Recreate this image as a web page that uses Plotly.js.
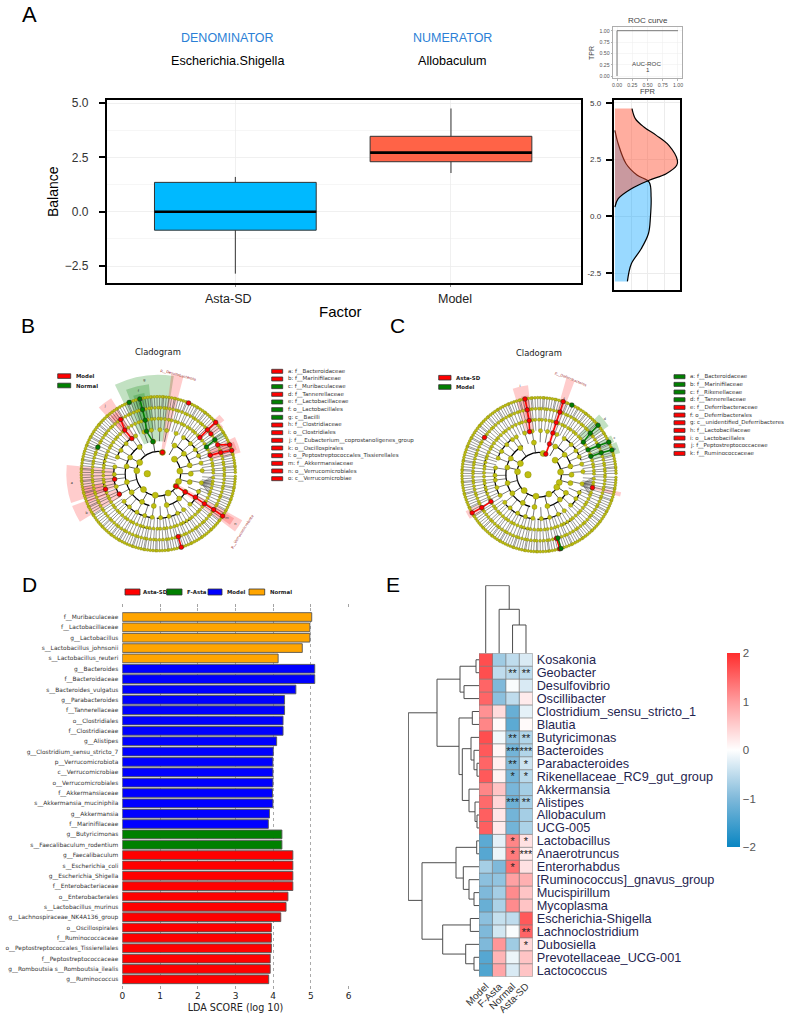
<!DOCTYPE html>
<html><head><meta charset="utf-8">
<script src="https://cdn.plot.ly/plotly-3.0.1.min.js"></script>
<style>html,body{margin:0;padding:0;background:#fff}#g{width:790px;height:1023px}</style>
</head><body><div id="g"></div>
<script>
// ---------- Panel A data ----------
const boxCats = ['Asta-SD','Model'];
const boxQ1 = [-0.85, 2.3];
const boxMed = [0, 2.72];
const boxQ3 = [1.35, 3.47];
const boxLow = [-2.85, 1.78];
const boxUp = [1.6, 4.75];
const boxColors = ['#00b9ff','#ff6347'];
const densModelY = [4.75,4.31,3.94,3.57,3.13,2.47,2.25,1.88,1.59,1.22,0.78,0.41];
const densModelX = [0.26,0.31,0.44,0.63,0.82,0.95,0.94,0.78,0.52,0.25,0.05,0];
const densAstaY = [3.79,3.2,2.32,1.81,1.51,0.85,-0.03,-0.76,-1.43,-2.09,-2.87];
const densAstaX = [0,0.05,0.17,0.34,0.52,0.55,0.54,0.51,0.40,0.25,0.19];
const rocX = [0,0,1];
const rocY = [0,1,1];

// ---------- Cladogram data ----------
const levelR = [0,21.7,32.5,44,55,66,77];
const ring1 = [42,7,-21,149,172,227,262,297,79,-35];
const ring2 = [60,38,15,0,-15,-34,99,125,150,167,195,215,240,262,285,310];
const ring3 = [4,14,24,33,43,55,66,79,88,99,109,121,127,137,148,158,171,181,187,197,208,219,229,241,252,262,273,284,296,305,316,327,336,348];
const ring4 = [1,4,8,11,15,19,22,26,29,33,37,41,44,48,51,55,58,62,65,69,72,76,79,83,87,90,94,97,101,104,108,111,115,119,123,127,130,134,138,141,145,149,152,156,160,163,167,171,174,178,182,186,189,193,196,200,204,207,211,215,218,222,225,229,233,236,240,243,247,251,254,258,261,265,269,272,276,279,283,287,290,294,297,301,305,308,312,316,319,323,327,330,334,338,341,345,349,352,356];
const ring5 = [0,3,5,8,10,13,16,19,21,24,26,29,32,35,37,40,43,45,48,50,53,56,58,61,64,66,69,72,74,77,80,83,85,88,90,93,96,98,101,104,107,109,112,115,117,120,123,125,128,131,134,136,139,142,144,147,150,152,155,158,161,163,166,169,171,174,177,179,182,185,187,190,193,196,198,201,204,206,209,212,214,217,220,223,225,228,231,233,236,239,241,244,247,250,252,255,258,260,263,266,268,271,274,277,279,282,285,287,290,293,295,298,301,304,306,309,312,314,317,320,322,325,328,331,333,336,339,341,344,347,349,352,355,358];
const ring6 = [1,3,5,6,8,10,12,14,15,17,19,21,23,24,26,28,30,32,33,35,37,39,41,42,44,46,48,50,52,53,55,57,59,60,62,64,66,68,69,71,73,75,77,78,80,82,84,86,87,89,91,93,95,96,98,100,102,104,105,107,109,111,113,114,116,118,120,122,123,125,127,129,131,132,134,136,138,140,141,143,145,147,149,151,152,154,156,158,159,161,163,165,167,169,170,172,174,176,177,179,181,183,185,186,188,190,192,194,195,197,199,201,203,205,206,208,210,212,213,215,217,219,221,223,224,226,228,230,232,233,235,237,239,240,242,244,246,248,250,251,253,255,257,259,260,262,264,266,268,269,271,273,275,277,278,280,282,284,286,287,289,291,293,295,296,298,300,302,304,305,307,309,311,313,314,316,318,320,322,323,325,327,329,331,332,334,336,338,340,341,343,345,347,349,350,352,354,356,358];
const arcBase = [21.7,21.7,32.5,32.5,32.5,44,44,44,44,44,44,55,55,55,55];
const arcTheta = [202,10,187,305,35,142,189,242,284,327,37,165,196,256,300];
const arcWidth = [246,50,135,40,50,31,38,40,32,25,35,12,12,12,10];
const rootR = [11];
const rootTheta = [180];
const fanFrom = -12;
const fanTo = [-2,-4,-5,-7,-8,-9,-11,-12,-13,-15,-16,-18,-19,-21,-22];

const wedgeB = {
  base:[32.5,44,55,21.7,44,55,44,44,55,21.7,55,66,55,55,66,55],
  top:[99,90,82,100,89,74,92,92,78,96,85,88,85,82,80,78],
  theta:[98.5,103.5,103.8,79,127,127,186.5,206,196,-33,41.5,-33,20,20,37,31],
  width:[35,15,8,7,10,6,24,11,12,8,5,5,11,6,3,4],
  color:['g','g','g','r','r','r','r','r','r','r','r','r','r','r','r','g']
};
const chainsRedB = [[[1,79]],[[3,127],[4,127.6],[5,124.7]],[[6,66.8]],[[4,41],[5,41.7],[6,41.8]],[[5,37.2]],[[4,19.5],[5,18.8],[6,17.5]],[[5,25.9],[6,22]],[[1,-35.3],[2,-34.3],[3,-32.4],[4,-33.1],[5,-33],[6,-33.3]],[[5,-72.4],[6,-72.6]],[[3,187.3]],[[4,196.4]],[[3,207.7]]];
const chainsGreenB = [[[2,99.5],[3,105.5],[4,103.8],[5,103.8],[6,103.9]],[[6,112.2]],[[5,156.3]],[[4,29],[5,31]]];
const wedgeLettersB = {r:[95,85,76,87,82,86,92,82],theta:[98.5,103.5,103.5,186,209,128,-33,-33],text:['g','f','e','a','b','j','n','m']};
const wedgeC = {
  base:[21.7,44,55,66,55,55,55,55],
  top:[100,90,80,82,84,85,82,84],
  theta:[71.7,102,100.5,209.5,-13.6,40,26,19],
  width:[5,10,5,6,3,10,5,8],
  color:['r','r','r','r','r','g','g','g']
};
const chainsRedC = [[[1,71.6],[2,71.2],[3,71.7],[4,71.7],[5,71.5],[6,71.7]],[[3,102.4],[4,100.3],[5,100.3],[6,100.5]],[[5,145.7]],[[4,209.2],[5,209.9],[6,209.7]],[[4,-13.6]],[[5,-74.7],[6,-74.4]]];
const chainsGreenC = [[[6,64.7]],[[4,36.3],[5,39],[6,40]],[[4,26.9],[5,26],[6,25]],[[4,19.5],[5,19.4],[6,18.7]],[[5,-73.4],[6,-73.4]]];
const wedgeLettersC = {r:[91,80,86,84,80],theta:[102,71.7,40,26,19],text:['i','f','d','c','b']};
const cladLabelsB = ['a: f__Bacteroidaceae','b: f__Marinifilaceae','c: f__Muribaculaceae','d: f__Tannerellaceae','e: f__Lactobacillaceae','f: o__Lactobacillales','g: c__Bacilli','h: f__Clostridiaceae','i: o__Clostridiales','j: f___Eubacterium__coprostanoligenes_group','k: o__Oscillospirales','l: o__Peptostreptococcales_Tissierellales','m: f__Akkermansiaceae','n: o__Verrucomicrobiales','o: c__Verrucomicrobiae'];
const cladColorsB = ['r','r','g','r','g','g','g','r','r','r','r','r','r','r','r'];
const cladLabelsC = ['a: f__Bacteroidaceae','b: f__Marinifilaceae','c: f__Rikenellaceae','d: f__Tannerellaceae','e: f__Deferribacteraceae','f: o__Deferribacterales','g: c__unidentified_Deferribacteres','h: f__Lactobacillaceae','i: o__Lactobacillales','j: f__Peptostreptococcaceae','k: f__Ruminococcaceae'];
const cladColorsC = ['g','g','g','g','r','r','r','r','r','r','r'];

// ---------- Panel D data ----------
const ldaLabels = ['f__Muribaculaceae','f__Lactobacillaceae','g__Lactobacillus','s__Lactobacillus_johnsonii','s__Lactobacillus_reuteri','g__Bacteroides','f__Bacteroidaceae','s__Bacteroides_vulgatus','g__Parabacteroides','f__Tannerellaceae','o__Clostridiales','f__Clostridiaceae','g__Alistipes','g__Clostridium_sensu_stricto_7','p__Verrucomicrobiota','c__Verrucomicrobiae','o__Verrucomicrobiales','f__Akkermansiaceae','s__Akkermansia_muciniphila','g__Akkermansia','f__Marinifilaceae','g__Butyricimonas','s__Faecalibaculum_rodentium','g__Faecalibaculum','s__Escherichia_coli','g__Escherichia_Shigella','f__Enterobacteriaceae','o__Enterobacterales','s__Lactobacillus_murinus','g__Lachnospiraceae_NK4A136_group','o__Oscillospirales','f__Ruminococcaceae','o__Peptostreptococcales_Tissierellales','f__Peptostreptococcaceae','g__Romboutsia s__Romboutsia_ilealis','g__Ruminococcus'];
const ldaScores = [5.02,4.97,4.97,4.77,4.13,5.10,5.10,4.60,4.30,4.30,4.26,4.26,4.09,4.00,3.99,3.99,3.99,3.98,3.99,3.90,3.87,4.23,4.23,4.52,4.52,4.52,4.52,4.39,4.34,4.20,3.95,3.95,3.95,3.92,3.92,3.88];
const ldaClass = ['N','N','N','N','N','M','M','M','M','M','M','M','M','M','M','M','M','M','M','M','M','F','F','A','A','A','A','A','A','A','A','A','A','A','A','A'];
const ldaColors = {N:'#ffa500',M:'#0000ff',F:'#008000',A:'#ff0000'};
const ldaTicks = [0,1,2,3,4,5,6];
const ldaLegend = ['Asta-SD','F-Asta','Model','Normal'];
const ldaLegendColors = ['#ff0000','#008000','#0000ff','#ffa500'];

// ---------- Panel E data ----------
const heatCols = ['Model','F-Asta','Normal','Asta-SD'];
const heatRows = ['Kosakonia','Geobacter','Desulfovibrio','Oscillibacter','Clostridium_sensu_stricto_1','Blautia','Butyricimonas','Bacteroides','Parabacteroides','Rikenellaceae_RC9_gut_group','Akkermansia','Alistipes','Allobaculum','UCG-005','Lactobacillus','Anaerotruncus','Enterorhabdus','[Ruminococcus]_gnavus_group','Mucispirillum','Mycoplasma','Escherichia-Shigella','Lachnoclostridium','Dubosiella','Prevotellaceae_UCG-001','Lactococcus'];
const heatZ = [
[1.7,-0.75,-0.5,-0.3],[1.7,-0.5,-0.55,-0.5],[1.5,-1.0,-0.05,-0.3],[1.5,-0.9,-0.5,0.2],
[1.1,0.35,-1.2,-0.2],[1.2,0.05,-1.3,0.05],[1.7,-0.1,-0.9,-0.6],[1.6,0.08,-1.1,-0.6],
[1.5,0.15,-1.0,-0.4],[1.6,0.12,-1.1,-0.55],[1.2,0.6,-1.05,-0.7],[1.45,0.4,-1.15,-0.7],
[1.55,0.25,-1.1,-0.7],[1.55,0.2,-1.1,-0.65],[-1.3,-0.2,1.2,0.3],[-1.35,-0.15,1.3,0.2],
[-0.7,-1.0,1.4,0.3],[-0.9,-0.85,0.95,0.8],[-1.0,-0.7,1.15,0.6],[-1.2,-0.65,1.15,0.6],
[-0.9,-0.45,-0.5,1.6],[-1.0,-0.35,-0.05,1.5],[-1.0,1.05,-0.75,0.4],[-1.35,0.75,-0.15,0.6],[-1.4,0.9,-0.3,0.6]];
const starRow = [1,1,6,6,7,7,8,8,9,9,11,11,14,14,15,15,16,21,22];
const starCol = [2,3,2,3,2,3,2,3,2,3,2,3,2,3,2,3,2,3,3];
const starText = ['**','**','**','**','***','***','**','*','*','*','***','**','*','*','*','***','*','**','*'];
// merges: [posA, heightA, posB, heightB, mergeHeight]
const colMerges = [[2,0,3,0,28.3],[1,0,2.5,28.3,44],[0,0,1.75,44,67.7]];
const rowMerges = [
[0,0,1,0,3],[2,0,3,0,15],[0.5,3,2.5,15,19],[4,0,5,0,6.7],[8,0,9,0,2],[7,0,8.5,2,5],[6,0,7.75,5,8],
[12,0,13,0,2],[11,0,12.5,2,4],[10,0,11.75,4,10],[6.875,8,10.875,10,16.7],[4.5,6.7,8.875,16.7,20],[1.5,19,6.69,20,42],
[14,0,15,0,2.3],[18,0,19,0,5],[17,0,18.5,5,10],[16,0,17.75,10,15.7],[14.5,2.3,16.875,15.7,23],
[20,0,21,0,8.7],[23,0,24,0,5],[22,0,23.5,5,13.3],[20.5,8.7,22.75,13.3,36.3],[15.69,23,21.6,36.3,57],[4.1,42,18.6,57,70.7]];

// ---------- helpers ----------
const W=790,H=1023;
const dx=(a,b)=>[a/W,b/W];
const dy=(top,bot)=>[1-bot/H,1-top/H];
const anns=[],shapes=[];
function txt(x,y,text,size,o){o=o||{};anns.push({xref:'paper',yref:'paper',x:x/W,y:1-y/H,text:text,showarrow:false,
  xanchor:o.xa||'center',yanchor:'middle',textangle:o.rot||0,
  font:{family:o.fam||'Liberation Sans',size:size,color:o.color||'#000'}});}
function rect(x0,x1,y0,y1,fill){shapes.push({type:'rect',xref:'paper',yref:'paper',x0:x0/W,x1:x1/W,y0:1-y0/H,y1:1-y1/H,fillcolor:fill,line:{color:'#333',width:0.8}});}
const RED='#ff0000',GREEN='#008000';
const traces=[];

// A: box
boxCats.forEach((c,i)=>{
  traces.push({type:'box',xaxis:'x',yaxis:'y',x:[i],q1:[boxQ1[i]],median:[boxMed[i]],q3:[boxQ3[i]],lowerfence:[boxLow[i]],upperfence:[boxUp[i]],
    width:0.75,whiskerwidth:0,boxpoints:false,fillcolor:boxColors[i],line:{color:'#333',width:1},showlegend:false,hoverinfo:'skip'});
  traces.push({type:'scatter',xaxis:'x',yaxis:'y',mode:'lines',x:[i-0.375,i+0.375],y:[boxMed[i],boxMed[i]],line:{color:'#000',width:2.6},showlegend:false,hoverinfo:'skip'});
});
// A: density
traces.push({type:'scatter',xaxis:'x2',yaxis:'y2',mode:'lines',x:densAstaX,y:densAstaY,fill:'tozerox',fillcolor:'rgba(0,160,255,0.40)',line:{color:'#000',width:1.2,shape:'spline'},showlegend:false,hoverinfo:'skip'});
traces.push({type:'scatter',xaxis:'x2',yaxis:'y2',mode:'lines',x:densModelX,y:densModelY,fill:'tozerox',fillcolor:'rgba(255,80,50,0.47)',line:{color:'#000',width:1.2,shape:'spline'},showlegend:false,hoverinfo:'skip'});
// A: ROC
traces.push({type:'scatter',xaxis:'x3',yaxis:'y3',mode:'lines',x:rocX,y:rocY,line:{color:'#777',width:1},showlegend:false,hoverinfo:'skip'});

// Cladograms
function spokes(ring,l){const r=[],t=[];ring.forEach(a=>{r.push(levelR[l-1],levelR[l],null);t.push(a,a,null);});return {r,t};}
function chainLines(ch){const r=[],t=[];ch.forEach(c=>{c.forEach(p=>{r.push(levelR[p[0]]);t.push(p[1]);});r.push(null);t.push(null);});return {r,t};}
function cladogram(sp,wedge,red,green,letters){
  const wc=wedge.color.map(c=>c==='r'?'rgba(255,0,0,0.2)':'rgba(0,128,0,0.24)');
  traces.push({type:'barpolar',subplot:sp,base:wedge.base,r:wedge.top.map((v,i)=>v-wedge.base[i]),theta:wedge.theta,width:wedge.width,marker:{color:wc,line:{width:0}},showlegend:false,hoverinfo:'skip'});
  traces.push({type:'barpolar',subplot:sp,base:arcBase,r:arcBase.map(()=>1.2),theta:arcTheta,width:arcWidth,marker:{color:'#000',line:{width:0}},showlegend:false,hoverinfo:'skip'});
  const fr=[],ft=[];fanTo.forEach(a=>{fr.push(levelR[3],levelR[4],null);ft.push(fanFrom,a,null);});
  traces.push({type:'scatterpolar',subplot:sp,mode:'lines',r:fr,theta:ft,line:{color:'#777',width:0.6},showlegend:false,hoverinfo:'skip'});
  [[ring6,6,0.5,'#333'],[ring5,5,0.5,'#333'],[ring4,4,0.5,'#333'],[ring3,3,0.6,'#222'],[ring2,2,0.8,'#222']].forEach(s=>{
    const q=spokes(s[0],s[1]);
    traces.push({type:'scatterpolar',subplot:sp,mode:'lines',r:q.r,theta:q.t,line:{color:s[3],width:s[2]},showlegend:false,hoverinfo:'skip'});
  });
  [[ring6,6,2.8],[ring5,5,3],[ring4,4,3.2],[ring3,3,4.2],[ring2,2,5],[ring1,1,6]].forEach(s=>{
    traces.push({type:'scatterpolar',subplot:sp,mode:'markers',r:s[0].map(()=>levelR[s[1]]),theta:s[0],marker:{size:s[2],color:'#bfbf10',line:{color:'#7f7f00',width:0.4}},showlegend:false,hoverinfo:'skip'});
  });
  traces.push({type:'scatterpolar',subplot:sp,mode:'markers',r:rootR,theta:rootTheta,marker:{size:6.5,color:'#bfbf10',line:{color:'#7f7f00',width:0.4}},showlegend:false,hoverinfo:'skip'});
  [[red,RED],[green,GREEN]].forEach(g=>{
    const q=chainLines(g[0]);
    traces.push({type:'scatterpolar',subplot:sp,mode:'lines+markers',r:q.r,theta:q.t,line:{color:g[1],width:1.5},marker:{size:4.6,color:g[1],line:{color:'#222',width:0.5}},showlegend:false,hoverinfo:'skip'});
  });
  traces.push({type:'scatterpolar',subplot:sp,mode:'text',r:letters.r,theta:letters.theta,text:letters.text,textfont:{size:3.5,color:'#333',family:'DejaVu Sans'},showlegend:false,hoverinfo:'skip'});
}
cladogram('polar',wedgeB,chainsRedB,chainsGreenB,wedgeLettersB);
cladogram('polar2',wedgeC,chainsRedC,chainsGreenC,wedgeLettersC);

// D
traces.push({type:'bar',orientation:'h',xaxis:'x4',yaxis:'y4',x:ldaScores,y:ldaLabels.map((_,i)=>i),width:0.84,
  marker:{color:ldaClass.map(c=>ldaColors[c]),line:{color:'#555',width:0.9}},showlegend:false,hoverinfo:'skip'});

// E
traces.push({type:'heatmap',xaxis:'x5',yaxis:'y5',x:heatCols.map((_,i)=>i),y:heatRows.map((_,i)=>i),z:heatZ,zmin:-2,zmax:2,
  colorscale:[[0,'#0a86c2'],[0.25,'#7fb9da'],[0.5,'#ffffff'],[0.75,'#ff9c9e'],[1,'#ff2d2d']],hoverinfo:'skip',
  colorbar:{x:726.7/W,xanchor:'left',xpad:0,ypad:0,y:1-653/H,yanchor:'top',lenmode:'pixels',len:194,thicknessmode:'pixels',thickness:12.6,
    tickvals:[-2,-1,0,1,2],ticktext:['\u22122','\u22121','0','1','2'],ticks:'',outlinewidth:0,tickfont:{family:'Liberation Sans',size:11.5,color:'#555'}}});
const gx=[],gy=[];
heatCols.concat(['']).forEach((_,i)=>{gx.push(i-0.5,i-0.5,null);gy.push(-0.5,heatRows.length-0.5,null);});
heatRows.concat(['']).forEach((_,i)=>{gx.push(-0.5,heatCols.length-0.5,null);gy.push(i-0.5,i-0.5,null);});
traces.push({type:'scatter',xaxis:'x5',yaxis:'y5',mode:'lines',x:gx,y:gy,line:{color:'#808080',width:0.8},showlegend:false,hoverinfo:'skip'});
traces.push({type:'scatter',xaxis:'x5',yaxis:'y5',mode:'text',x:starCol,y:starRow.map(r=>r+0.12),text:starText,textfont:{family:'Liberation Sans',size:11,color:'#222'},textposition:'middle center',showlegend:false,hoverinfo:'skip'});
function dendro(merges,xa,ya,horizontal){const a=[],b=[];merges.forEach(m=>{
    a.push(m[0],m[0],m[2],m[2],null);b.push(m[1],m[4],m[4],m[3],null);});
  traces.push({type:'scatter',xaxis:xa,yaxis:ya,mode:'lines',x:horizontal?b:a,y:horizontal?a:b,line:{color:'#4d4d4d',width:1},showlegend:false,hoverinfo:'skip'});}
dendro(colMerges,'x6','y6',false);
dendro(rowMerges,'x7','y7',true);

// ---------- text ----------
txt(29,15,'A',22); txt(28,326,'B',21); txt(397,326,'C',21); txt(29,584,'D',21); txt(393,584,'E',21);
txt(227.8,38,'DENOMINATOR',12.5,{color:'#2b7fd6'}); txt(452,38,'NUMERATOR',12.5,{color:'#2b7fd6'});
txt(227.8,61,'Escherichia.Shigella',12.6); txt(452,61,'Allobaculum',12.6);
txt(53,192,'Balance',14,{rot:-90}); txt(340,312,'Factor',15);
txt(228,299,boxCats[0],12.5,{color:'#222'}); txt(455,299,boxCats[1],12.5,{color:'#222'});
txt(647.5,21,'ROC curve',8,{color:'#444'}); txt(647.5,91,'FPR',7.5,{color:'#444'}); txt(592,53,'TPR',7,{rot:-90,color:'#444'});
txt(646.5,64,'AUC-ROC',6.2,{color:'#444'}); txt(648,70,'1',6.2,{color:'#444'});

const dv='DejaVu Sans';
txt(158,351.7,'Cladogram',8.4,{fam:dv,color:'#222'}); txt(539,352.7,'Cladogram',8.4,{fam:dv,color:'#222'});
rect(57.7,70.7,373.8,378.4,RED); rect(57.7,70.7,383.2,387.8,GREEN);
txt(74,376,'<b>Model</b>',5.4,{fam:dv,xa:'left',color:'#222'}); txt(74,385.6,'<b>Normal</b>',5.4,{fam:dv,xa:'left',color:'#222'});
rect(438.7,451,375.4,380,RED); rect(438.7,451,384.7,389.3,GREEN);
txt(453.7,377.7,'<b>Asta-SD</b>',5.4,{fam:dv,xa:'left',color:'#222'}); txt(453.7,387,'<b>Model</b>',5.4,{fam:dv,xa:'left',color:'#222'});
cladLabelsB.forEach((s,i)=>{const y=371.3+7.67*i;rect(271.7,282.7,y-2,y+2,cladColorsB[i]==='r'?RED:GREEN);txt(286,y,s,5.5,{fam:dv,xa:'left',color:'#333'});});
cladLabelsC.forEach((s,i)=>{const y=376.7+7.67*i;rect(674,685,y-2,y+2,cladColorsC[i]==='r'?RED:GREEN);txt(688.3,y,s,5.5,{fam:dv,xa:'left',color:'#333'});});
txt(178,374.5,'p__Desulfobacterota',3.6,{fam:dv,rot:15,color:'#a02828'});
txt(242,532,'p__Verrucomicrobiota',3.6,{fam:dv,rot:-57,color:'#a02828'});
txt(570.5,378.5,'p__Deferribacteres',3.6,{fam:dv,rot:22,color:'#a02828'});

const ldaLegX=[[125,140,141],[166.7,182,185],[208,222,224.7],[249,264.7,267.7]];
ldaLegend.forEach((s,i)=>{rect(ldaLegX[i][0],ldaLegX[i][1],589,595,ldaLegendColors[i]);txt(ldaLegX[i][2],592,'<b>'+s+'</b>',5.4,{fam:dv,xa:'left',color:'#222'});});

// ---------- layout ----------
const polarCommon={bgcolor:'rgba(0,0,0,0)',barmode:'overlay',radialaxis:{visible:false,range:[0,105]},angularaxis:{visible:false,rotation:0,direction:'counterclockwise',thetaunit:'degrees'}};
const fine='#ececec';
const layout={
  width:W,height:H,autosize:false,margin:{l:0,r:0,t:0,b:0},paper_bgcolor:'#fff',plot_bgcolor:'rgba(0,0,0,0)',showlegend:false,
  annotations:anns,shapes:shapes,
  polar:Object.assign({domain:{x:dx(158.3-105,158.3+105),y:dy(473.7-105,473.7+105)}},polarCommon),
  polar2:Object.assign({domain:{x:dx(539-105,539+105),y:dy(474.7-105,474.7+105)}},polarCommon),
  xaxis:{domain:dx(106.6,580.8),anchor:'y',range:[-0.597,1.602],tickvals:[0,1],showticklabels:false,showline:true,mirror:true,linecolor:'#000',linewidth:1.8,
    gridcolor:fine,gridwidth:0.8,zeroline:false,ticks:'outside',ticklen:2,tickwidth:1,tickcolor:'#888'},
  yaxis:{domain:dy(100,283),anchor:'x',range:[-3.28,5.14],tickmode:'array',tickvals:[-2.5,0,2.5,5],ticktext:['\u22122.5','0.0','2.5','5.0'],showline:true,mirror:true,linecolor:'#000',linewidth:1.8,
    gridcolor:fine,gridwidth:0.8,zeroline:false,ticks:'outside',ticklen:6,tickwidth:2,tickcolor:'#000',ticklabelstandoff:8,tickfont:{family:'Liberation Sans',size:12,color:'#333'},
    minor:{tickmode:'array',tickvals:[-1.25,1.25,3.75],showgrid:true,gridcolor:'#f4f4f4',gridwidth:0.8,ticks:''}},
  xaxis2:{domain:dx(613.6,680.3),anchor:'y2',range:[-0.02,0.994],showline:true,mirror:true,linecolor:'#000',linewidth:1.8,tickvals:[0.25,0.5,0.75],showticklabels:false,ticks:'',gridcolor:fine,zeroline:false},
  yaxis2:{domain:dy(100,290),anchor:'x2',range:[-3.25,5.13],tickmode:'array',tickvals:[-2.5,0,2.5,5],ticktext:['-2.5','0.0','2.5','5.0'],showline:true,mirror:true,linecolor:'#000',linewidth:1.8,
    ticks:'outside',ticklen:6,tickwidth:2,tickcolor:'#000',gridcolor:fine,zeroline:false,tickfont:{family:'Liberation Sans',size:8,color:'#333'},ticklabelstandoff:3},
  xaxis3:{domain:dx(613,682),anchor:'y3',range:[-0.066,1.066],tickmode:'array',tickvals:[0,0.25,0.5,0.75,1],ticktext:['0.00','0.25','0.50','0.75','1.00'],showline:true,mirror:true,linecolor:'#999',linewidth:0.8,
    ticks:'outside',ticklen:1.5,tickwidth:0.5,tickcolor:'#666',gridcolor:'#eeeeee',gridwidth:0.5,zeroline:false,tickfont:{family:'Liberation Sans',size:5.2,color:'#555'}},
  yaxis3:{domain:dy(27.3,78.3),anchor:'x3',range:[-0.05,1.075],tickmode:'array',tickvals:[0,0.25,0.5,0.75,1],ticktext:['0.00','0.25','0.50','0.75','1.00'],showline:true,mirror:true,linecolor:'#999',linewidth:0.8,
    ticks:'outside',ticklen:1.5,tickwidth:0.5,tickcolor:'#666',gridcolor:'#eeeeee',gridwidth:0.5,zeroline:false,tickfont:{family:'Liberation Sans',size:5.2,color:'#555'}},
  xaxis4:{domain:dx(122.3,348.7),anchor:'y4',range:[0,6],tickmode:'array',tickvals:ldaTicks,showgrid:true,gridcolor:'#888',griddash:'dot',gridwidth:0.7,zeroline:false,showline:false,mirror:'ticks',
    ticks:'outside',ticklen:2.5,tickwidth:0.6,tickcolor:'#666',tickfont:{family:dv,size:9,color:'#222'},
    title:{text:'LDA SCORE (log 10)',font:{family:dv,size:9.6,color:'#222'},standoff:3}},
  yaxis4:{domain:dy(607.7,985),anchor:'x4',range:[35.55,-0.9],tickmode:'array',tickvals:ldaLabels.map((_,i)=>i),ticktext:ldaLabels,showgrid:false,zeroline:false,showline:false,ticks:'',ticklabelstandoff:3,tickfont:{family:dv,size:5.9,color:'#333'}},
  xaxis5:{domain:dx(479,532.7),anchor:'y5',range:[-0.5,3.5],tickmode:'array',tickvals:heatCols.map((_,i)=>i),ticktext:heatCols,tickangle:-45,showgrid:false,zeroline:false,ticks:'',tickfont:{family:'Liberation Sans',size:10,color:'#333'},ticklabelstandoff:1},
  yaxis5:{domain:dy(653.3,976.7),anchor:'x5',side:'right',range:[24.5,-0.5],tickmode:'array',tickvals:heatRows.map((_,i)=>i),ticktext:heatRows,showgrid:false,zeroline:false,ticks:'',ticklabelstandoff:3,tickfont:{family:'Liberation Sans',size:12.7,color:'#1f2550'}},
  xaxis6:{domain:dx(479,532.7),anchor:'y6',range:[-0.5,3.5],visible:false},
  yaxis6:{domain:dy(585.3,653.3),anchor:'x6',range:[0,68],visible:false},
  xaxis7:{domain:dx(408,479),anchor:'y7',range:[71,0],visible:false},
  yaxis7:{domain:dy(653.3,976.7),anchor:'x7',range:[24.5,-0.5],visible:false}
};
Plotly.newPlot('g',traces,layout,{displayModeBar:false,staticPlot:true});
</script></body></html>
